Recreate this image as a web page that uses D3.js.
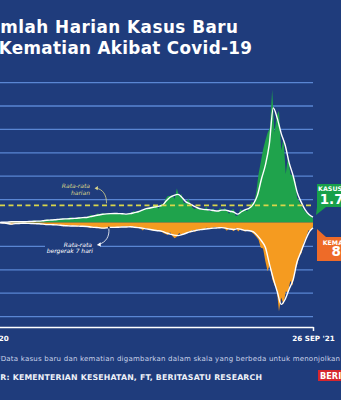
<!DOCTYPE html>
<html>
<head>
<meta charset="utf-8">
<script src="https://cdn.jsdelivr.net/npm/d3@7"></script>
<style>
  html, body { margin: 0; padding: 0; background: #1f3c7c; overflow: hidden; }
  svg { display: block; }
</style>
</head>
<body>
<svg id="chart" width="341" height="400"></svg>
<script>
// ---- data -------------------------------------------------------------
const tanggalAwal = "2020-03-02";
const tanggalAkhir = "2021-09-26";

// 7-day moving averages, one value every 7 days counted back from the last date (first entry = first date)
const kasusRata7 = [
  0, 1, 14, 60, 110, 180, 290, 320, 300, 330,
  390, 500, 560, 590, 750, 950, 1050, 1150, 1350, 1500,
  1550, 1650, 1750, 1900, 2100, 2150, 2500, 2900, 3200, 3500,
  3700, 3800, 3850, 3800, 3750, 3600, 3800, 4200, 4600, 5300,
  5900, 6200, 6600, 6900, 7300, 9200, 10800, 11600, 12000, 10700,
  8800, 8000, 7000, 6200, 5700, 5500, 5400, 5100, 4900, 5300,
  5300, 4800, 4500, 3600, 4600, 5500, 6200, 8000, 11600, 18500,
  24500, 33500, 49000, 44500, 38000, 33000, 25500, 20000, 13000, 8800,
  5500, 3400, 2300
];
const kematianRata7 = [
  0, 0, 1, 5, 12, 20, 35, 25, 22, 15,
  18, 20, 25, 28, 35, 45, 45, 50, 55, 65,
  70, 75, 75, 78, 80, 85, 95, 105, 110, 120,
  115, 105, 105, 100, 95, 95, 90, 100, 110, 120,
  135, 150, 165, 175, 190, 220, 250, 270, 280, 260,
  230, 200, 180, 160, 150, 140, 130, 120, 115, 110,
  120, 140, 150, 130, 150, 170, 175, 200, 280, 390,
  530, 880, 1200, 1480, 1750, 1640, 1420, 1220, 840, 620,
  400, 210, 110
];

// daily counts, one value every 4 days counted back from the last date (first entry = first date)
const kasusHarian = [
  0, 0, 0, 2, 21, 38, 64, 107, 129, 113,
  218, 399, 375, 325, 436, 214, 347, 395, 387, 568,
  496, 973, 415, 700, 609, 672, 1043, 1331, 1041, 1178,
  1385, 1293, 1447, 1853, 1282, 1752, 1693, 2381, 1893, 1519,
  1882, 2345, 2081, 1821, 2266, 2719, 3308, 3003, 3141, 3861,
  3636, 3876, 3965, 3509, 4174, 3707, 4050, 3906, 4101, 3373,
  4070, 3396, 3543, 4173, 3779, 5044, 4265, 4998, 4917, 5533,
  6027, 5803, 6725, 6385, 7751, 6848, 5854, 8072, 7445, 10046,
  11278, 11287, 11703, 9994, 14518, 10994, 12156, 8435, 8242, 10208,
  7775, 6208, 5712, 6971, 5633, 5854, 5656, 6585, 5008, 4677,
  6049, 4549, 5041, 6177, 4952, 6243, 5241, 3738, 5285, 5749,
  2633, 3158, 5797, 5060, 5583, 4849, 6594, 8892, 8189, 12990,
  20694, 25830, 31189, 35094, 38391, 40427, 56757, 38325, 45416, 47791,
  30738, 35867, 20709, 28598, 20741, 20004, 18671, 10534, 8955, 6831,
  5376, 4128, 3385, 2881, 1760
];
const kematianHarian = [
  0, 0, 0, 0, 1, 5, 10, 14, 21, 21,
  40, 47, 26, 24, 21, 31, 13, 14, 13, 21,
  24, 36, 31, 27, 39, 40, 36, 47, 37, 59,
  51, 56, 49, 58, 87, 64, 81, 58, 74, 62,
  86, 66, 79, 73, 85, 100, 118, 102, 105, 118,
  122, 124, 128, 115, 112, 98, 105, 101, 117, 105,
  85, 83, 96, 89, 105, 87, 109, 118, 130, 169,
  116, 139, 155, 166, 180, 160, 171, 185, 224, 248,
  269, 210, 289, 336, 302, 227, 270, 232, 238, 192,
  213, 161, 201, 141, 171, 132, 150, 113, 120, 136,
  107, 98, 120, 123, 106, 126, 176, 126, 143, 187,
  110, 191, 142, 165, 193, 169, 164, 206, 251, 303,
  371, 539, 558, 826, 1040, 892, 1205, 1338, 1415, 1894,
  1604, 1747, 1475, 1492, 1245, 1348, 1030, 908, 705, 652,
  412, 315, 166, 182, 83
];

const rataHarianKasus = 7345;
const gridKasus = [10000, 20000, 30000, 40000, 50000, 60000];
const gridKematian = [500, 1000, 1500, 2000];
const labelTanggal = ["2 MAR '20", "26 SEP '21"];
const judul = ["Jumlah Harian Kasus Baru", "& Kematian Akibat Covid-19"];
const catatan = "*Data kasus baru dan kematian digambarkan dalam skala yang berbeda untuk menonjolkan tren";
const sumber = "SUMBER: KEMENTERIAN KESEHATAN, FT, BERITASATU RESEARCH";

// ---- setup ------------------------------------------------------------
const W = 341, H = 400;
const NAVY = "#1f3c7c", GRID = "#5a86d3", HIJAU = "#1fa34c", ORANYE = "#f59b20";
const KOTAK_HIJAU = "#18a04a", KOTAK_ORANYE = "#ee6b28", KUNING = "#d9d54a";
const FONT = "'DejaVu Sans', sans-serif";

const parse = d3.timeParse("%Y-%m-%d");
const t0 = parse(tanggalAwal), t1 = parse(tanggalAkhir);
const seri = (nilai, langkah) => nilai.map((v, i) => ({
  t: i === 0 ? t0 : d3.timeDay.offset(t1, -langkah * (nilai.length - 1 - i)),
  v
}));
const kasusAvg = seri(kasusRata7, 7), matiAvg = seri(kematianRata7, 7);
const kasusDay = seri(kasusHarian, 4), matiDay = seri(kematianHarian, 4);

const id = d3.formatLocale({ decimal: ",", thousands: ".", grouping: [3], currency: ["Rp", ""] });
const fmt = id.format(",");

const xEnd = 313;
const x = d3.scaleTime().domain([t0, t1]).range([-12, xEnd]);
const yK = d3.scaleLinear().domain([0, 60000]).range([222.5, 82.1]);
const yM = d3.scaleLinear().domain([0, 2000]).range([222.5, 316.1]);

const svg = d3.select("#chart");
svg.append("rect").attr("width", W).attr("height", H).attr("fill", NAVY);

// spread a run of characters [k, m) of a text so that it spans xs..xe
function rentang(sel, k, m, xs, xe) {
  const node = sel.node();
  const n = node.getNumberOfChars();
  if (m == null) m = n;
  const w = node.getSubStringLength(k, m - k);
  const p = k > 0 ? node.getSubStringLength(0, k) : 0;
  const ls = (xe - xs - w) / Math.max(1, m - k - 1);
  sel.attr("letter-spacing", ls).attr("x", xs - p - k * ls);
}

// title
judul.forEach((t, i) => {
  const el = svg.append("text")
    .attr("y", 33.3 + i * 20.2)
    .attr("font-family", FONT).attr("font-weight", "bold").attr("font-size", 16.8)
    .attr("fill", "#ffffff").text(t);
  rentang(el, 2, null, i === 0 ? 0.3 : -1.2, i === 0 ? 238 : 252);
});

// gridlines (cases above zero, deaths below)
const gGrid = svg.append("g").attr("class", "grid");
gGrid.append("g")
  .call(d3.axisRight(yK).tickValues(gridKasus).tickSize(xEnd).tickFormat(""))
  .call(g => g.select(".domain").remove());
gGrid.append("g")
  .call(d3.axisRight(yM).tickValues(gridKematian).tickSize(xEnd).tickFormat(""))
  .call(g => g.select(".domain").remove());
gGrid.selectAll("line").attr("stroke", GRID).attr("stroke-width", 1.3);

// areas of daily counts
svg.append("path").datum(kasusDay)
  .attr("fill", HIJAU)
  .attr("d", d3.area().x(d => x(d.t)).y0(yK(0)).y1(d => yK(d.v)));
svg.append("path").datum(matiDay)
  .attr("fill", ORANYE)
  .attr("d", d3.area().x(d => x(d.t)).y0(yM(0)).y1(d => yM(d.v)));

// 7-day averages
svg.append("path").datum(kasusAvg)
  .attr("fill", "none").attr("stroke", "#ffffff").attr("stroke-width", 1.4)
  .attr("stroke-linejoin", "round")
  .attr("d", d3.line().x(d => x(d.t)).y(d => yK(d.v)).curve(d3.curveMonotoneX));
svg.append("path").datum(matiAvg)
  .attr("fill", "none").attr("stroke", "#ffffff").attr("stroke-width", 1.4)
  .attr("stroke-linejoin", "round")
  .attr("d", d3.line().x(d => x(d.t)).y(d => yM(d.v)).curve(d3.curveMonotoneX));

// overall daily average of cases
svg.append("line")
  .attr("x1", 0).attr("x2", xEnd)
  .attr("y1", yK(rataHarianKasus)).attr("y2", yK(rataHarianKasus))
  .attr("stroke", KUNING).attr("stroke-width", 1.8).attr("stroke-dasharray", "5,3.5");

// x axis
const gx = svg.append("g").attr("transform", "translate(0,327)")
  .call(d3.axisBottom(x).tickValues([t0, t1]).tickSize(4).tickSizeOuter(0)
    .tickFormat((d, i) => labelTanggal[i]));
gx.select(".domain").attr("stroke", "#ffffff").attr("stroke-width", 1.5);
gx.selectAll(".tick line").attr("stroke", "#ffffff").attr("stroke-width", 1.5);
gx.selectAll(".tick text").attr("fill", "#ffffff").attr("font-family", FONT)
  .attr("font-weight", "bold").attr("font-size", 7.2).attr("y", 8.5).attr("dy", "0.71em");

// annotation: daily average
const tAnnA = d3.timeDay.offset(t0, 209);
const ax = x(tAnnA), ay = yK(rataHarianKasus) - 2;
const annA = svg.append("g");
annA.append("text").attr("x", 90).attr("y", 187.5).attr("text-anchor", "end")
  .attr("font-family", FONT).attr("font-style", "italic").attr("font-size", 6)
  .attr("fill", "#d8d48a").text("Rata-rata");
annA.append("text").attr("x", 90).attr("y", 194.5).attr("text-anchor", "end")
  .attr("font-family", FONT).attr("font-style", "italic").attr("font-size", 6)
  .attr("fill", "#d8d48a").text("harian");
annA.append("path")
  .attr("d", `M${ax},${ay} C${ax},${ay - 9} ${ax - 4},${ay - 14} ${ax - 10},${ay - 15}`)
  .attr("fill", "none").attr("stroke", "#d8d48a").attr("stroke-width", 0.8);
annA.append("path")
  .attr("d", `M${ax - 12},${ay - 15} l3.5,-2.2 l-0.4,4.2 z`).attr("fill", "#d8d48a");

// annotation: 7-day moving average
const tAnnB = d3.timeDay.offset(t0, 213);
const bx = x(tAnnB), by = yM(d3.least(matiAvg, d => Math.abs(d.t - tAnnB)).v);
const annB = svg.append("g");
annB.append("rect").attr("x", 45).attr("y", 239).attr("width", 55).attr("height", 16).attr("fill", NAVY);
annB.append("text").attr("x", 92).attr("y", 246.5).attr("text-anchor", "end")
  .attr("font-family", FONT).attr("font-style", "italic").attr("font-size", 6)
  .attr("fill", "#ffffff").text("Rata-rata");
annB.append("text").attr("x", 93).attr("y", 253).attr("text-anchor", "end")
  .attr("font-family", FONT).attr("font-style", "italic").attr("font-size", 6)
  .attr("fill", "#ffffff").text("bergerak 7 hari");
annB.append("path")
  .attr("d", `M${bx},${by + 1} C${bx + 1},${by + 9} ${bx - 3},${by + 15} ${bx - 10},${by + 17}`)
  .attr("fill", "none").attr("stroke", "#ffffff").attr("stroke-width", 0.8);
annB.append("path")
  .attr("d", `M${bx - 12},${by + 17.5} l3.8,-2.6 l0.2,4.2 z`).attr("fill", "#ffffff");
annB.append("circle").attr("cx", bx).attr("cy", by).attr("r", 1).attr("fill", "#1a2a55");

// end-value callouts
const akhirK = kasusHarian[kasusHarian.length - 1];
const akhirM = kematianHarian[kematianHarian.length - 1];
const cx = 341;
const cK = svg.append("g");
cK.append("path").attr("d", "M317,184 H370 V207 H326 L316,215 L317,207 Z").attr("fill", KOTAK_HIJAU);
cK.append("text").attr("x", cx).attr("y", 191).attr("text-anchor", "middle")
  .attr("font-family", FONT).attr("font-weight", "bold").attr("font-size", 6.3)
  .attr("fill", "#ffffff").text("KASUS BARU");
cK.append("text").attr("x", cx).attr("y", 204).attr("text-anchor", "middle")
  .attr("font-family", FONT).attr("font-weight", "bold").attr("font-size", 13.5)
  .attr("fill", "#ffffff").text(fmt(akhirK));
const cM = svg.append("g");
cM.append("path").attr("d", "M317,229 L326,237 H370 V261 H317 Z").attr("fill", KOTAK_ORANYE);
cM.append("text").attr("x", cx).attr("y", 244.5).attr("text-anchor", "middle")
  .attr("font-family", FONT).attr("font-weight", "bold").attr("font-size", 6.3)
  .attr("fill", "#ffffff").text("KEMATIAN");
cM.append("text").attr("x", cx).attr("y", 256).attr("text-anchor", "middle")
  .attr("font-family", FONT).attr("font-weight", "bold").attr("font-size", 13.5)
  .attr("fill", "#ffffff").text(fmt(akhirM));

// footnote and source
const elCatatan = svg.append("text").attr("y", 360.5)
  .attr("font-family", FONT).attr("font-size", 7).attr("fill", "#c9d2e8").text(catatan);
rentang(elCatatan, 1, catatan.indexOf(" tren"), 0.7, 340);
const elSumber = svg.append("text").attr("y", 380)
  .attr("font-family", FONT).attr("font-weight", "bold").attr("font-size", 7.8)
  .attr("fill", "#eef1f8").text(sumber);
rentang(elSumber, 5, null, 0.3, 262);
svg.append("rect").attr("x", 318).attr("y", 370).attr("width", 60).attr("height", 11).attr("fill", "#d6262e");
svg.append("text").attr("x", 320).attr("y", 379).attr("font-family", FONT)
  .attr("font-weight", "bold").attr("font-size", 8.2).attr("fill", "#ffffff").text("BERITASATU");
</script>
</body>
</html>
